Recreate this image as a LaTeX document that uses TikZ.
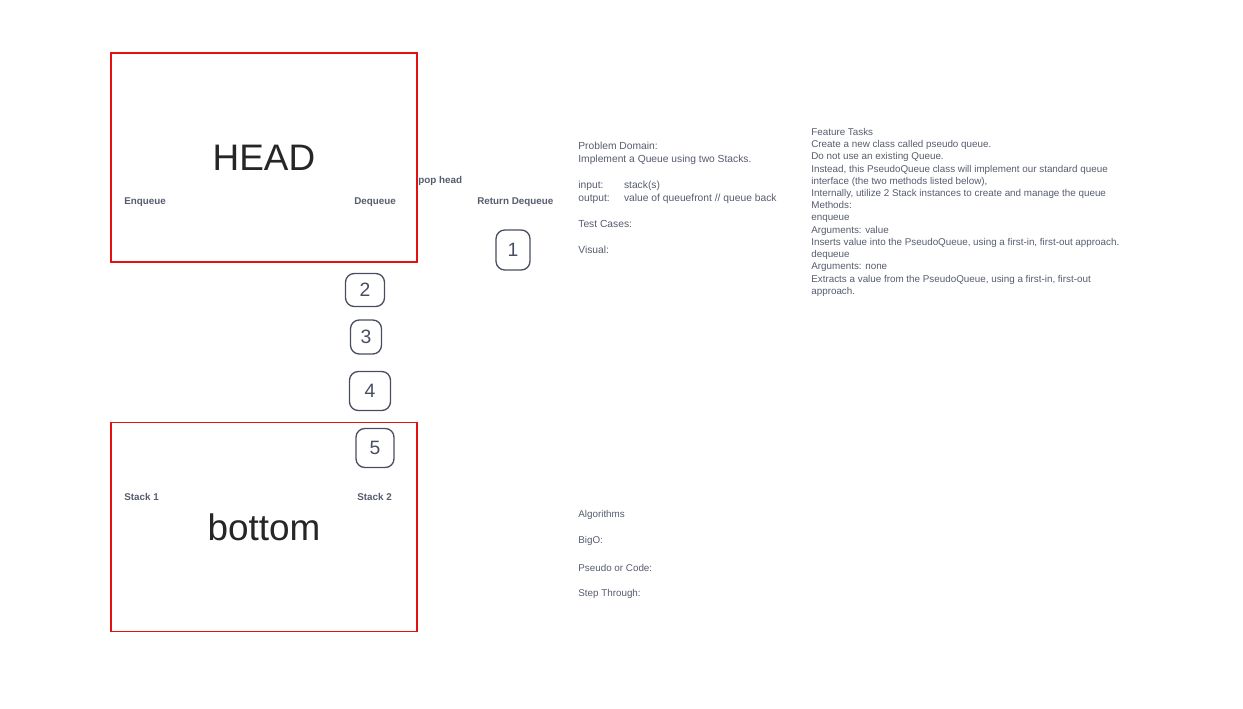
\documentclass[tikz,border=0pt]{standalone}
\usepackage{fontspec}
\setmainfont{Liberation Sans}
\definecolor{boxred}{RGB}{226,18,18}
\definecolor{inkgray}{RGB}{86,92,110}
\definecolor{pen}{RGB}{72,78,96}
\tikzset{
  stackbox/.style={draw=boxred, line width=0.85pt, minimum width=6.12cm, minimum height=4.18cm,
    inner sep=0pt, text=black!85, font=\fontsize{21}{25}\selectfont},
  tag/.style={anchor=west, inner sep=0pt, text=inkgray, font=\fontsize{5.6}{7}\selectfont\bfseries},
  note/.style={anchor=west, inner sep=0pt, align=left, text=inkgray, font=\fontsize{5.6}{7.4}\selectfont},
  numbox/.style={draw=pen, line width=0.75pt, rounded corners=5pt, inner sep=0pt,
    text=pen, font=\fontsize{11}{11}\selectfont},
}
\begin{document}
\begin{tikzpicture}[x=0.02cm, y=-0.02cm]
\useasboundingbox (0,0) rectangle (1243,709);

% the two stacks
\node[stackbox] (head) at (264,157.5) {HEAD};
\node[stackbox] (bottom) at (264,527) {bottom};

\node[tag] (enq) at (124,202) {Enqueue};
\node[tag] (deq) at (354,202) {Dequeue};
\node[tag] (stack1) at (124,497) {Stack 1};
\node[tag] (stack2) at (357,497) {Stack 2};
\node[tag] (pop) at (418,181) {pop head};
\node[tag] (ret) at (477,202) {Return Dequeue};

% hand drawn steps
\node[numbox, minimum width=0.68cm, minimum height=0.80cm] (n1) at (513,250) {1};
\node[numbox, minimum width=0.78cm, minimum height=0.66cm] (n2) at (365,290) {2};
\node[numbox, minimum width=0.62cm, minimum height=0.68cm] (n3) at (366,337) {3};
\node[numbox, minimum width=0.82cm, minimum height=0.78cm] (n4) at (370,391) {4};
\node[numbox, minimum width=0.76cm, minimum height=0.78cm] (n5) at (375,448) {5};

% problem domain
\node[note, anchor=north west, font=\fontsize{5.85}{7.4}\selectfont] (domain) at (578,141.5) {Problem Domain:\\
Implement a Queue using two Stacks.\\[7.4pt]
\makebox[26pt][l]{input:}stack(s)\\
\makebox[26pt][l]{output:}value of queuefront // queue back\\[7.4pt]
Test Cases:\\[7.4pt]
Visual:};

\foreach \t [count=\i] in {Algorithms, BigO:, Pseudo or Code:, Step Through:}
  \node[note] (alg\i) at (578,515+26.3*\i-26.3) {\t};

% feature tasks
\node[note, anchor=north west, font=\fontsize{5.6}{6.95}\selectfont] (tasks) at (811,128) {Feature Tasks\\
Create a new class called pseudo queue.\\
Do not use an existing Queue.\\
Instead, this PseudoQueue class will implement our standard queue\\
interface (the two methods listed below),\\
Internally, utilize 2 Stack instances to create and manage the queue\\
Methods:\\
enqueue\\
Arguments: value\\
Inserts value into the PseudoQueue, using a first-in, first-out approach.\\
dequeue\\
Arguments: none\\
Extracts a value from the PseudoQueue, using a first-in, first-out\\
approach.};
\end{tikzpicture}
\end{document}
